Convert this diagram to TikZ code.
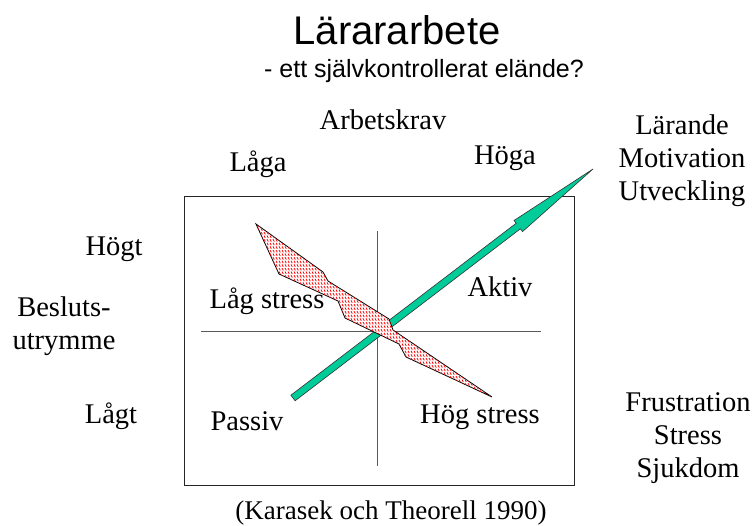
\documentclass[tikz,border=0pt]{standalone}
\usepackage{fontspec}
\setmainfont{Liberation Serif}
\newfontfamily\headfont{Liberation Sans}
\usepackage{xcolor}
\usetikzlibrary{patterns,calc}
\definecolor{arrowgreen}{RGB}{0,204,153}
\pgfdeclarepatternformonly{stressdash}{\pgfpoint{-1pt}{-1pt}}{\pgfpoint{4pt}{4pt}}{\pgfpoint{3pt}{3.6pt}}{%
  \pgfsetlinewidth{0.8pt}%
  \pgfpathmoveto{\pgfpoint{0pt}{2.4pt}}%
  \pgfpathlineto{\pgfpoint{1.3pt}{0pt}}%
  \pgfusepath{stroke}}

\begin{document}
\begin{tikzpicture}[x=1pt, y=-1pt,
    word/.style={font=\fontsize{28.5}{33}\selectfont, inner sep=0pt, anchor=base, align=center},
    head/.style={font=\headfont\fontsize{40}{46}\selectfont, inner sep=0pt, anchor=base},
    subhead/.style={font=\headfont\fontsize{25}{30}\selectfont, inner sep=0pt, anchor=base},
    frame/.style={draw=black!85, line width=1pt},
    axis/.style={draw=black!65, line width=1pt},
    zone/.style={draw=black, line width=0.8pt, fill=white, postaction={pattern=stressdash, pattern color=red}},
    growth/.style={draw=black!80, line width=0.6pt, fill=arrowgreen}
]
\fill[white] (0,0) rectangle (755,526);
\useasboundingbox (0,0) rectangle (755,526);

\node[head] (title) at (397,45) {Lärararbete};
\node[subhead] (subtitle) at (424,78) {- ett självkontrollerat elände?};

\draw[frame] (184,197) rectangle (574,485);
\draw[axis] (377,231) -- (377,466);
\draw[axis] (201,332) -- (541,332);

\coordinate (tail) at (293,398);
\coordinate (tip) at (593,169);
\coordinate (hb) at ($(tip)!94pt!(tail)$);
\filldraw[growth] ($(tail)!3.5pt!90:(tip)$) -- ($(hb)!3.5pt!90:(tip)$) -- ($(hb)!7pt!90:(tip)$) -- (tip)
  -- ($(hb)!7pt!-90:(tip)$) -- ($(hb)!3.5pt!-90:(tip)$) -- ($(tail)!3.5pt!-90:(tip)$) -- cycle;

\filldraw[zone] (256,224) -- (323,272) -- (328,281) -- (389,319) -- (393,330) -- (492,397)
  -- (406,357) -- (399,344) -- (345,318) -- (338,301) -- (279,274) -- cycle;

\node[word] (arbetskrav) at (383,130) {Arbetskrav};
\node[word] (laga) at (258,172) {Låga};
\node[word] (hoga) at (505,165) {Höga};
\node[word] (positive) at (682,201) {Lärande\\Motivation\\Utveckling};
\node[word] (negative) at (688,477) {Frustration\\Stress\\Sjukdom};
\node[word] (hogt) at (114,256) {Högt};
\node[word] (beslut) at (64,350) {Besluts-\\utrymme};
\node[word] (lagt) at (111,424) {Lågt};
\node[word] (lagstress) at (267,309) {Låg stress};
\node[word] (aktiv) at (500,297) {Aktiv};
\node[word] (passiv) at (247,431) {Passiv};
\node[word] (hogstress) at (480,424) {Hög stress};
\node[word, font=\fontsize{27}{32}\selectfont] (source) at (391,519) {(Karasek och Theorell 1990)};
\end{tikzpicture}
\end{document}
